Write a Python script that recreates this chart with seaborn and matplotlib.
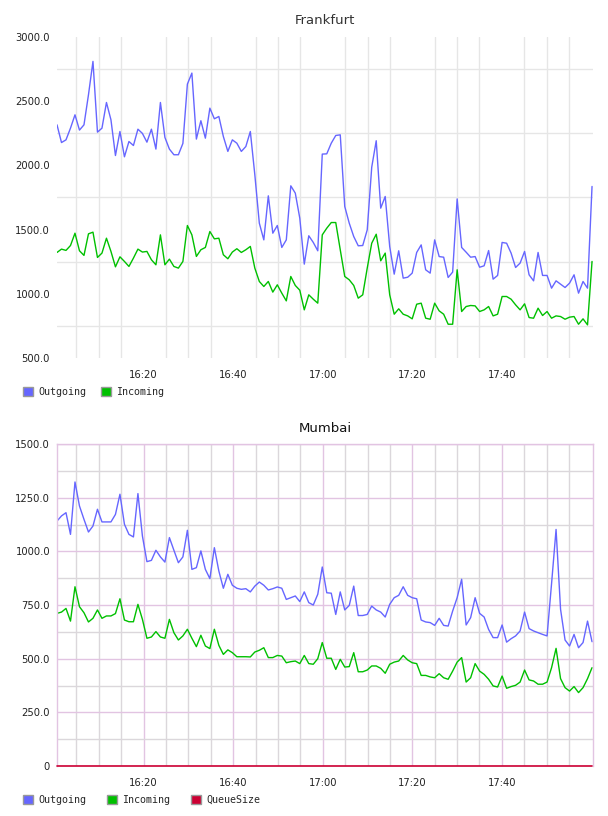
import matplotlib
matplotlib.use("Agg")
import numpy as np
import pandas as pd
import matplotlib.pyplot as plt
import matplotlib.dates as mdates
from matplotlib.patches import Patch
import seaborn as sns

# 1. Donnees (un point par minute, 120 points)
OUT_FRA = [2316, 2178, 2199, 2290, 2394, 2275, 2316, 2550, 2810, 2259,
           2290, 2490, 2355, 2077, 2264, 2067, 2186, 2155, 2282, 2249,
           2181, 2282, 2127, 2490, 2218, 2127, 2083, 2083, 2171, 2633,
           2719, 2205, 2348, 2212, 2446, 2363, 2381, 2225, 2109, 2199,
           2173, 2109, 2147, 2264, 1927, 1550, 1420, 1763, 1472, 1532,
           1361, 1420, 1841, 1784, 1589, 1231, 1452, 1400, 1335,
           2088, 2090, 2173, 2233, 2238, 1680, 1550, 1446, 1374, 1376,
           1498, 1986, 2192, 1667, 1758, 1368, 1153, 1335, 1122, 1129,
           1161, 1322, 1381, 1187, 1161, 1420, 1290, 1285, 1127, 1169,
           1739, 1361, 1324, 1285, 1290, 1207, 1218, 1337, 1114, 1143,
           1400, 1394, 1317, 1205, 1239, 1330, 1148, 1101, 1322, 1143,
           1143, 1044, 1101, 1075, 1049, 1083, 1148, 1005, 1096, 1044, 1836]
IN_FRA = [1322, 1348, 1338, 1376, 1472, 1335, 1299, 1467, 1480, 1283,
          1317, 1433, 1330, 1210, 1288, 1252, 1213, 1278, 1348, 1325,
          1330, 1265, 1226, 1459, 1226, 1270, 1213, 1200, 1252, 1532,
          1459, 1291, 1343, 1361, 1485, 1428, 1433, 1304, 1273, 1325,
          1351, 1322, 1343, 1369, 1200, 1096, 1057, 1096, 1013, 1070,
          1005, 945, 1135, 1065, 1028, 875, 992, 958, 927,
          1459, 1511, 1555, 1555, 1343, 1135, 1109, 1065, 966, 992,
          1200, 1394, 1464, 1257, 1317, 992, 841, 883, 841, 828,
          805, 919, 927, 810, 802, 927, 867, 841, 763, 763,
          1187, 862, 901, 909, 906, 862, 875, 901, 828, 841,
          979, 979, 958, 914, 875, 922, 815, 810, 888, 831,
          862, 810, 828, 823, 802, 818, 823, 763, 805, 758, 1252]

OUT_BOM = [1141, 1165, 1180, 1079, 1323, 1211, 1149, 1090, 1118, 1196,
           1137, 1137, 1137, 1172, 1266, 1126, 1079, 1067, 1269, 1071,
           952, 958, 1005, 974, 950, 1064, 1005, 947, 974, 1098,
           916, 924, 1002, 916, 873, 1017, 908, 828, 893, 842,
           828, 823, 826, 811, 838, 857, 842, 820, 826, 834,
           828, 776, 784, 792, 766, 811, 761, 750, 800, 927,
           807, 805, 706, 811, 727, 748, 838, 701, 701, 706,
           745, 727, 717, 694, 753, 784, 795, 835, 795, 784,
           779, 680, 671, 668, 655, 688, 655, 652, 722, 784,
           870, 657, 691, 784, 711, 694, 636, 598, 598, 657,
           577, 593, 606, 629, 717, 640, 629, 621, 613, 606,
           850, 1102, 730, 587, 559, 613, 551, 575, 675, 579]
IN_BOM = [711, 717, 734, 675, 835, 742, 714, 671, 688, 727,
          688, 699, 699, 710, 779, 680, 672, 672, 753, 683,
          595, 601, 626, 601, 595, 683, 621, 587, 606, 637,
          595, 556, 609, 559, 547, 637, 562, 520, 541, 528,
          509, 509, 509, 508, 531, 539, 551, 505, 505, 515,
          512, 481, 486, 489, 477, 515, 477, 474, 500, 575,
          502, 502, 450, 497, 461, 463, 528, 439, 439, 447,
          466, 466, 455, 432, 474, 484, 489, 515, 494, 481,
          477, 422, 422, 415, 411, 430, 411, 404, 442, 484,
          505, 391, 411, 477, 442, 427, 404, 373, 368, 419,
          362, 370, 376, 391, 447, 401, 396, 381, 381, 391,
          458, 548, 407, 365, 349, 370, 342, 365, 407, 458]
QUEUE_BOM = [0] * 120

TIMES = pd.date_range("2024-01-01 16:00:40", "2024-01-01 18:00:08", periods=120)
X_LIM = (pd.Timestamp("2024-01-01 16:00:40"), pd.Timestamp("2024-01-01 18:00:21"))
X_TICKS = pd.to_datetime(["2024-01-01 16:20", "2024-01-01 16:40", "2024-01-01 17:00",
                          "2024-01-01 17:20", "2024-01-01 17:40"])
X_LABELS = ["16:20", "16:40", "17:00", "17:20", "17:40"]
X_MINOR = pd.date_range("2024-01-01 16:05", "2024-01-01 17:55", freq="5min")

Y_TICKS_FRA = [500, 1000, 1500, 2000, 2500, 3000]
Y_LABELS_FRA = ["500.0", "1000.0", "1500.0", "2000.0", "2500.0", "3000.0"]
Y_GRID_FRA = [750, 1250, 1750, 2250, 2750]
Y_TICKS_BOM = [0, 250, 500, 750, 1000, 1250, 1500]
Y_LABELS_BOM = ["0", "250.0", "500.0", "750.0", "1000.0", "1250.0", "1500.0"]
Y_MINOR_BOM = [125, 375, 625, 875, 1125, 1375]

BLUE, GREEN, RED = "#6666ff", "#00c000", "#cc0033"
GRID_GRAY = "#e6e6e6"
PINK = "#e2c4e2"
MAUVE = "#dbd7db"

# 2. Style
sns.set_style("white")
plt.rcParams["font.family"] = ["DejaVu Sans"]

fig = plt.figure(figsize=(6.08, 8.16), dpi=100)
ax1 = fig.add_axes([57 / 608, 1 - 358 / 816, 536 / 608, 321 / 816])
ax2 = fig.add_axes([57 / 608, 1 - 766 / 816, 536 / 608, 322 / 816])

df_fra = pd.DataFrame({"time": TIMES, "Outgoing": OUT_FRA, "Incoming": IN_FRA})
df_bom = pd.DataFrame({"time": TIMES, "Outgoing": OUT_BOM, "Incoming": IN_BOM,
                       "QueueSize": QUEUE_BOM})

# 3. Frankfurt
sns.lineplot(data=df_fra, x="time", y="Outgoing", ax=ax1, color=BLUE, lw=1.0)
sns.lineplot(data=df_fra, x="time", y="Incoming", ax=ax1, color=GREEN, lw=1.0)
ax1.set_xlim(*X_LIM)
ax1.set_ylim(500, 3000)
ax1.set_xticks(X_TICKS, X_LABELS)
ax1.set_xticks(X_MINOR, minor=True)
ax1.set_yticks(Y_TICKS_FRA, Y_LABELS_FRA)
ax1.set_yticks(Y_GRID_FRA, minor=True)
ax1.grid(False)
ax1.grid(True, which="minor", color=GRID_GRAY, lw=1.0)
for s in ax1.spines.values():
    s.set_visible(False)
ax1.set_title("Frankfurt", fontsize=9.5, color="#333333", pad=9)

# 4. Mumbai
sns.lineplot(data=df_bom, x="time", y="Outgoing", ax=ax2, color=BLUE, lw=1.0)
sns.lineplot(data=df_bom, x="time", y="Incoming", ax=ax2, color=GREEN, lw=1.0)
sns.lineplot(data=df_bom, x="time", y="QueueSize", ax=ax2, color=RED, lw=1.2,
             clip_on=False, zorder=5)
ax2.set_xlim(*X_LIM)
ax2.set_ylim(0, 1500)
ax2.set_xticks(X_TICKS, X_LABELS)
ax2.set_xticks([t for t in X_MINOR if t not in X_TICKS], minor=True)
ax2.set_yticks(Y_TICKS_BOM, Y_LABELS_BOM)
ax2.set_yticks(Y_MINOR_BOM, minor=True)
ax2.grid(True, which="major", color=PINK, lw=1.0)
ax2.grid(True, which="minor", color=MAUVE, lw=1.0)
for name, s in ax2.spines.items():
    s.set_visible(name != "bottom")
    s.set_color(PINK)
    s.set_linewidth(1.0)
ax2.set_title("Mumbai", fontsize=9.5, color="#111111", pad=9)

for ax in (ax1, ax2):
    ax.set_xlabel("")
    ax.set_ylabel("")
    ax.tick_params(which="both", length=0, labelsize=7.2, colors="#222222")
    ax.tick_params(axis="x", pad=8.5)
    ax.tick_params(axis="y", pad=5)

# 5. Legendes
def add_legend(names, colors, ypix, spacing):
    handles = [Patch(facecolor=c, edgecolor="#999999", lw=1.0, label=n)
               for n, c in zip(names, colors)]
    fig.legend(handles=handles, loc="center left", ncol=len(handles),
               bbox_to_anchor=(23 / 608, 1 - ypix / 816), frameon=False,
               handlelength=1.0, handleheight=1.0, handletextpad=0.5,
               columnspacing=spacing, borderpad=0, borderaxespad=0,
               prop={"family": "DejaVu Sans Mono", "size": 7.2})

add_legend(["Outgoing", "Incoming"], [BLUE, GREEN], 392, 1.5)
add_legend(["Outgoing", "Incoming", "QueueSize"], [BLUE, GREEN, RED], 800, 2.1)

fig.savefig("out.png", dpi=100)
